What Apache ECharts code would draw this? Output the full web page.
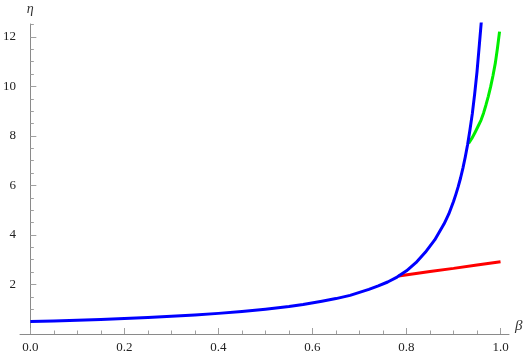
<!DOCTYPE html>
<html>
<head>
<meta charset="utf-8">
<script src="https://cdn.jsdelivr.net/npm/echarts@6/dist/echarts.min.js"></script>
<style>html,body{margin:0;padding:0;background:#fff}#c{width:529px;height:354px}</style>
</head>
<body>
<div id="c"></div>
<script>
var betaBlue = [0, 0.05, 0.1, 0.15, 0.2, 0.25, 0.3, 0.35, 0.4, 0.45, 0.5, 0.55, 0.58, 0.62, 0.65, 0.68, 0.7, 0.72, 0.74, 0.76, 0.78, 0.8, 0.82, 0.84, 0.86, 0.88, 0.89, 0.895, 0.9, 0.905, 0.91, 0.915, 0.92, 0.925, 0.93, 0.935, 0.94, 0.945, 0.95, 0.955, 0.9595];
var etaBlue  = [0.50, 0.526, 0.556, 0.588, 0.625, 0.667, 0.714, 0.77, 0.833, 0.91, 1.00, 1.11, 1.19, 1.32, 1.43, 1.56, 1.68, 1.80, 1.94, 2.10, 2.30, 2.55, 2.88, 3.30, 3.80, 4.45, 4.85, 5.10, 5.35, 5.64, 5.95, 6.30, 6.70, 7.15, 7.65, 8.25, 8.90, 9.70, 10.60, 11.70, 12.70];
var betaRed  = [0.783, 0.85, 0.9, 0.95, 1.0];
var etaRed   = [2.34, 2.52, 2.65, 2.79, 2.92];
var betaGreen = [0.932, 0.94, 0.946, 0.952, 0.9586, 0.964, 0.969, 0.974, 0.979, 0.984, 0.989, 0.9935, 0.9979];
var etaGreen  = [7.70, 7.93, 8.15, 8.38, 8.64, 8.93, 9.25, 9.60, 9.99, 10.44, 10.95, 11.55, 12.21];
var xMajor = [0, 0.2, 0.4, 0.6, 0.8, 1.0];
var xMajorLabels = ['0.0', '0.2', '0.4', '0.6', '0.8', '1.0'];
var xMinor = [0.05, 0.1, 0.15, 0.25, 0.3, 0.35, 0.45, 0.5, 0.55, 0.65, 0.7, 0.75, 0.85, 0.9, 0.95];
var yMajor = [2, 4, 6, 8, 10, 12];
var yMinor = [0.5, 1, 1.5, 2.5, 3, 3.5, 4.5, 5, 5.5, 6.5, 7, 7.5, 8.5, 9, 9.5, 10.5, 11, 11.5, 12.5];

function pairs(xs, ys) { return xs.map(function (x, i) { return [x, ys[i]]; }); }

var X_MIN = -0.022, X_MAX = 1.018, Y_MIN = 0, Y_MAX = 12.52;
var font = 'Liberation Serif';
var axisGray = '#8a8a8a';

var chart = echarts.init(document.getElementById('c'), null, {renderer: 'canvas'});
chart.setOption({
  animation: false,
  textStyle: {fontFamily: font},
  grid: {left: 6, top: 24, width: 503, height: 310, containLabel: false},
  xAxis: [{
    type: 'value', min: X_MIN, max: X_MAX, position: 'bottom',
    axisLine: {show: true, onZero: false, lineStyle: {color: axisGray, width: 1}},
    axisTick: {show: true, inside: true, length: 6, customValues: xMajor, lineStyle: {color: '#a0a0a0'}},
    axisLabel: {show: true, customValues: xMajor, margin: 7, color: '#222', fontFamily: font, fontSize: 13,
      formatter: function (v) { var i = xMajor.indexOf(v); return i >= 0 ? xMajorLabels[i] : ''; }},
    splitLine: {show: false},
    name: 'β', nameLocation: 'end', nameGap: 6,
    nameTextStyle: {fontFamily: font, fontStyle: 'italic', fontSize: 15, color: '#333', verticalAlign: 'bottom'}
  }, {
    type: 'value', min: X_MIN, max: X_MAX, position: 'bottom',
    axisLine: {show: false, onZero: false},
    axisTick: {show: true, inside: true, length: 3.5, customValues: xMinor, lineStyle: {color: '#a0a0a0'}},
    axisLabel: {show: false}, splitLine: {show: false}
  }],
  yAxis: [{
    type: 'value', min: Y_MIN, max: Y_MAX, position: 'left',
    axisLine: {show: true, onZero: true, onZeroAxisIndex: 0, lineStyle: {color: axisGray, width: 1}},
    axisTick: {show: true, inside: true, length: 6, customValues: yMajor, lineStyle: {color: '#a0a0a0'}},
    axisLabel: {show: true, customValues: yMajor, margin: 4, color: '#222', fontFamily: font, fontSize: 13},
    splitLine: {show: false},
    name: 'η', nameLocation: 'end', nameGap: 8,
    nameTextStyle: {fontFamily: font, fontStyle: 'italic', fontSize: 14, color: '#333'}
  }, {
    type: 'value', min: Y_MIN, max: Y_MAX, position: 'left',
    axisLine: {show: false, onZero: true, onZeroAxisIndex: 0},
    axisTick: {show: true, inside: true, length: 3.5, customValues: yMinor, lineStyle: {color: '#a0a0a0'}},
    axisLabel: {show: false}, splitLine: {show: false}
  }],
  series: [{
    type: 'line', data: pairs(betaRed, etaRed), showSymbol: false, symbol: 'none', smooth: false,
    lineStyle: {color: '#ff0000', width: 3}, z: 2
  }, {
    type: 'line', data: pairs(betaGreen, etaGreen), showSymbol: false, symbol: 'none', smooth: false,
    lineStyle: {color: '#00ee00', width: 3, join: 'round'}, z: 3
  }, {
    type: 'line', data: pairs(betaBlue, etaBlue), showSymbol: false, symbol: 'none', smooth: false,
    lineStyle: {color: '#0000ff', width: 3, join: 'round'}, z: 4
  }]
});
</script>
</body>
</html>
